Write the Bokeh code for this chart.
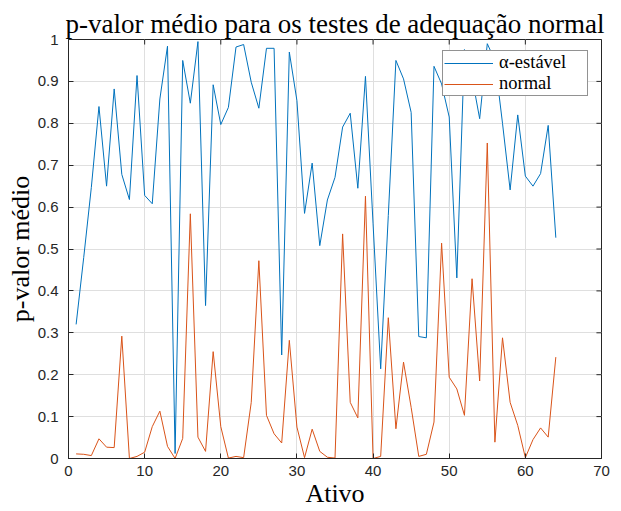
from bokeh.plotting import figure
from bokeh.models import FixedTicker, ColumnDataSource, Legend, LegendItem
from bokeh.embed import file_html
from bokeh.resources import INLINE

# Mean p-value per asset (Ativo 1..64) for the two fitted distributions
ativo = list(range(1, 65))
p_estavel = [
    0.320, 0.480, 0.647, 0.840, 0.650, 0.882, 0.678, 0.618, 0.914, 0.628,
    0.608, 0.858, 0.984, 0.012, 0.950, 0.848, 0.995, 0.365, 0.892, 0.797,
    0.838, 0.982, 0.988, 0.898, 0.836, 0.979, 0.979, 0.247, 0.970, 0.854,
    0.585, 0.705, 0.508, 0.617, 0.671, 0.791, 0.824, 0.645, 0.912, 0.560,
    0.214, 0.580, 0.950, 0.906, 0.826, 0.291, 0.288, 0.936, 0.894, 0.815,
    0.431, 0.976, 0.910, 0.811, 0.990, 0.950, 0.800, 0.641, 0.820, 0.674,
    0.650, 0.680, 0.795, 0.527,
]
p_normal = [
    0.011, 0.010, 0.007, 0.047, 0.027, 0.026, 0.292, 0.000, 0.005, 0.015,
    0.076, 0.113, 0.029, 0.000, 0.048, 0.584, 0.051, 0.017, 0.255, 0.076,
    0.001, 0.005, 0.002, 0.134, 0.472, 0.103, 0.059, 0.037, 0.282, 0.075,
    0.002, 0.070, 0.017, 0.003, 0.001, 0.536, 0.134, 0.097, 0.626, 0.000,
    0.005, 0.336, 0.071, 0.230, 0.122, 0.005, 0.010, 0.087, 0.514, 0.194,
    0.166, 0.103, 0.429, 0.185, 0.753, 0.039, 0.288, 0.134, 0.079, 0.002,
    0.045, 0.073, 0.051, 0.242,
]
series_names = ["\u03b1-est\u00e1vel", "normal"]

x_ticks = [0, 10, 20, 30, 40, 50, 60, 70]
y_ticks = [0, 0.1, 0.2, 0.3, 0.4, 0.5, 0.6, 0.7, 0.8, 0.9, 1]
y_tick_labels = ["0", "0.1", "0.2", "0.3", "0.4", "0.5", "0.6", "0.7", "0.8", "0.9", "1"]

X_MIN, X_MAX = 0, 70
Y_MIN, Y_MAX = 0, 1

BLUE = "#0072BD"
ORANGE = "#D95319"
DARK = "#262626"
SERIF = "Liberation Serif"
SANS = "Liberation Sans"

src = ColumnDataSource(dict(x=ativo, a=p_estavel, n=p_normal))

p = figure(width=621, height=511, x_range=(X_MIN, X_MAX), y_range=(Y_MIN, Y_MAX),
           output_backend="svg", toolbar_location=None,
           min_border_left=68, min_border_right=20,
           min_border_top=39, min_border_bottom=53,
           title="p-valor m\u00e9dio para os testes de adequa\u00e7\u00e3o normal")

p.title.text_font = SERIF
p.title.text_font_size = "27px"
p.title.text_font_style = "normal"
p.title.text_color = "black"
p.title.align = "center"
p.title.standoff = 2

p.background_fill_color = "white"
p.border_fill_color = "white"
p.outline_line_color = DARK
p.outline_line_width = 1

r1 = p.line("x", "a", source=src, line_color=BLUE, line_width=1)
r2 = p.line("x", "n", source=src, line_color=ORANGE, line_width=1)

def style_axis(ax, ticks):
    ax.ticker = FixedTicker(ticks=ticks)
    ax.axis_line_color = DARK
    ax.major_tick_line_color = DARK
    ax.major_tick_in = 5
    ax.major_tick_out = 0
    ax.minor_tick_line_color = None
    ax.major_label_text_font = SANS
    ax.major_label_text_font_size = "15px"
    ax.major_label_text_color = DARK
    ax.axis_label_text_font = SERIF
    ax.axis_label_text_font_size = "26px"
    ax.axis_label_text_font_style = "normal"
    ax.axis_label_text_color = "black"

xa = p.xaxis[0]
style_axis(xa, x_ticks)
xa.axis_label = "Ativo"
xa.major_label_standoff = 7
xa.axis_label_standoff = 0

ya = p.yaxis[0]
style_axis(ya, y_ticks)
ya.axis_label = "p-valor m\u00e9dio"
ya.major_label_standoff = 10
ya.axis_label_standoff = 0
ya.major_label_overrides = {t: l for t, l in zip(y_ticks, y_tick_labels)}

# inward tick marks along the top and right edges of the box
TICK_Y = 0.012 * (Y_MAX - Y_MIN)
TICK_X = 0.0095 * (X_MAX - X_MIN)
p.segment(x0=x_ticks, y0=[Y_MAX] * len(x_ticks), x1=x_ticks,
          y1=[Y_MAX - TICK_Y] * len(x_ticks), line_color=DARK, line_width=1)
p.segment(x0=[X_MAX] * len(y_ticks), y0=y_ticks, x1=[X_MAX - TICK_X] * len(y_ticks),
          y1=y_ticks, line_color=DARK, line_width=1)

p.xgrid.ticker = FixedTicker(ticks=x_ticks)
p.ygrid.ticker = FixedTicker(ticks=y_ticks)
for g in (p.xgrid[0], p.ygrid[0]):
    g.grid_line_color = "#dfdfdf"
    g.grid_line_width = 1

legend = Legend(items=[LegendItem(label=series_names[0], renderers=[r1]),
                       LegendItem(label=series_names[1], renderers=[r2])],
                location=(374, 362), margin=0, padding=1, spacing=0,
                glyph_width=49, glyph_height=18, label_height=18,
                label_standoff=6, label_width=87,
                label_text_font=SERIF, label_text_font_size="18.5px",
                label_text_color="black",
                border_line_color=DARK, border_line_width=1,
                background_fill_color="white", background_fill_alpha=1.0)
p.add_layout(legend, "center")

open("out.html", "w").write(file_html(p, INLINE))
